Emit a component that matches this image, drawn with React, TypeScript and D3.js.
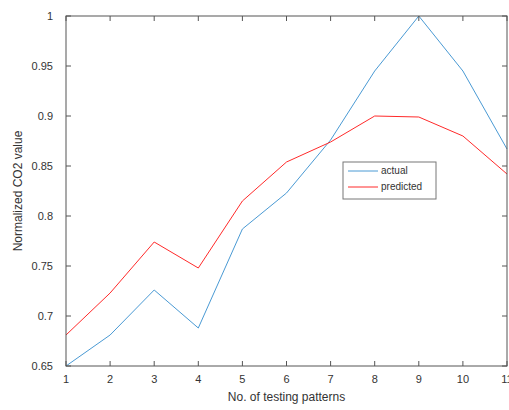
import React from 'react';
import * as d3 from 'd3';

// testing pattern indices
const patterns = [1, 2, 3, 4, 5, 6, 7, 8, 9, 10, 11];
// actual normalized CO2
const actual = [0.65, 0.681, 0.726, 0.688, 0.787, 0.823, 0.876, 0.945, 1.0, 0.945, 0.867];
// predicted normalized CO2
const predicted = [0.681, 0.723, 0.774, 0.748, 0.815, 0.854, 0.874, 0.9, 0.899, 0.88, 0.842];
const yTicks = [0.65, 0.7, 0.75, 0.8, 0.85, 0.9, 0.95, 1];
const yTickLabels = ['0.65', '0.7', '0.75', '0.8', '0.85', '0.9', '0.95', '1'];

const App = () => {
  const width = 509;
  const height = 410;
  const left = 66;
  const right = 507;
  const top = 16;
  const bottom = 366;

  const x = d3.scaleLinear().domain([1, 11]).range([left, right]);
  const y = d3.scaleLinear().domain([0.65, 1]).range([bottom, top]);

  const line = d3.line<number>()
    .x((d, i) => x(patterns[i]))
    .y((d) => y(d));

  const axisColor = '#555';
  const font = 'Liberation Sans, Arial, sans-serif';
  const tickLen = 5;

  return (
    <svg width={width} height={height} style={{ position: 'absolute', left: 0, top: 0 }}>
      <rect x={0} y={0} width={width} height={height} fill="#fff" />
      {/* data lines */}
      <path d={line(actual) || ''} fill="none" stroke="#4a9ad4" strokeWidth={1} />
      <path d={line(predicted) || ''} fill="none" stroke="#ff2a2a" strokeWidth={1} />

      {/* box */}
      <rect x={left} y={top} width={right - left} height={bottom - top} fill="none" stroke={axisColor} strokeWidth={1} />

      {/* x ticks */}
      {patterns.map((p) => (
        <g key={'x' + p}>
          <line x1={x(p)} x2={x(p)} y1={bottom} y2={bottom - tickLen} stroke={axisColor} />
          <line x1={x(p)} x2={x(p)} y1={top} y2={top + tickLen} stroke={axisColor} />
          <text x={x(p)} y={bottom + 17} textAnchor="middle" fontSize={11} fontFamily={font} fill="#333">{p}</text>
        </g>
      ))}

      {/* y ticks */}
      {yTicks.map((t, i) => (
        <g key={'y' + i}>
          <line x1={left} x2={left + tickLen} y1={y(t)} y2={y(t)} stroke={axisColor} />
          <line x1={right} x2={right - tickLen} y1={y(t)} y2={y(t)} stroke={axisColor} />
          <text x={left - 13} y={y(t) + 4} textAnchor="end" fontSize={11} fontFamily={font} fill="#333">{yTickLabels[i]}</text>
        </g>
      ))}

      {/* axis labels */}
      <text x={(left + right) / 2} y={401} textAnchor="middle" fontSize={12} fontFamily={font} fill="#333">No. of testing patterns</text>
      <text transform={`translate(22, ${(top + bottom) / 2}) rotate(-90)`} textAnchor="middle" fontSize={12} fontFamily={font} fill="#333">Normalized CO2 value</text>

      {/* legend */}
      <rect x={343} y={162} width={93} height={37} fill="#fff" stroke="#777" strokeWidth={1} />
      <line x1={348} x2={378} y1={171} y2={171} stroke="#4a9ad4" />
      <line x1={348} x2={378} y1={187} y2={187} stroke="#ff2a2a" />
      <text x={381} y={174} fontSize={10} fontFamily={font} fill="#333">actual</text>
      <text x={381} y={190} fontSize={10} fontFamily={font} fill="#333">predicted</text>
    </svg>
  );
};

export default App;
